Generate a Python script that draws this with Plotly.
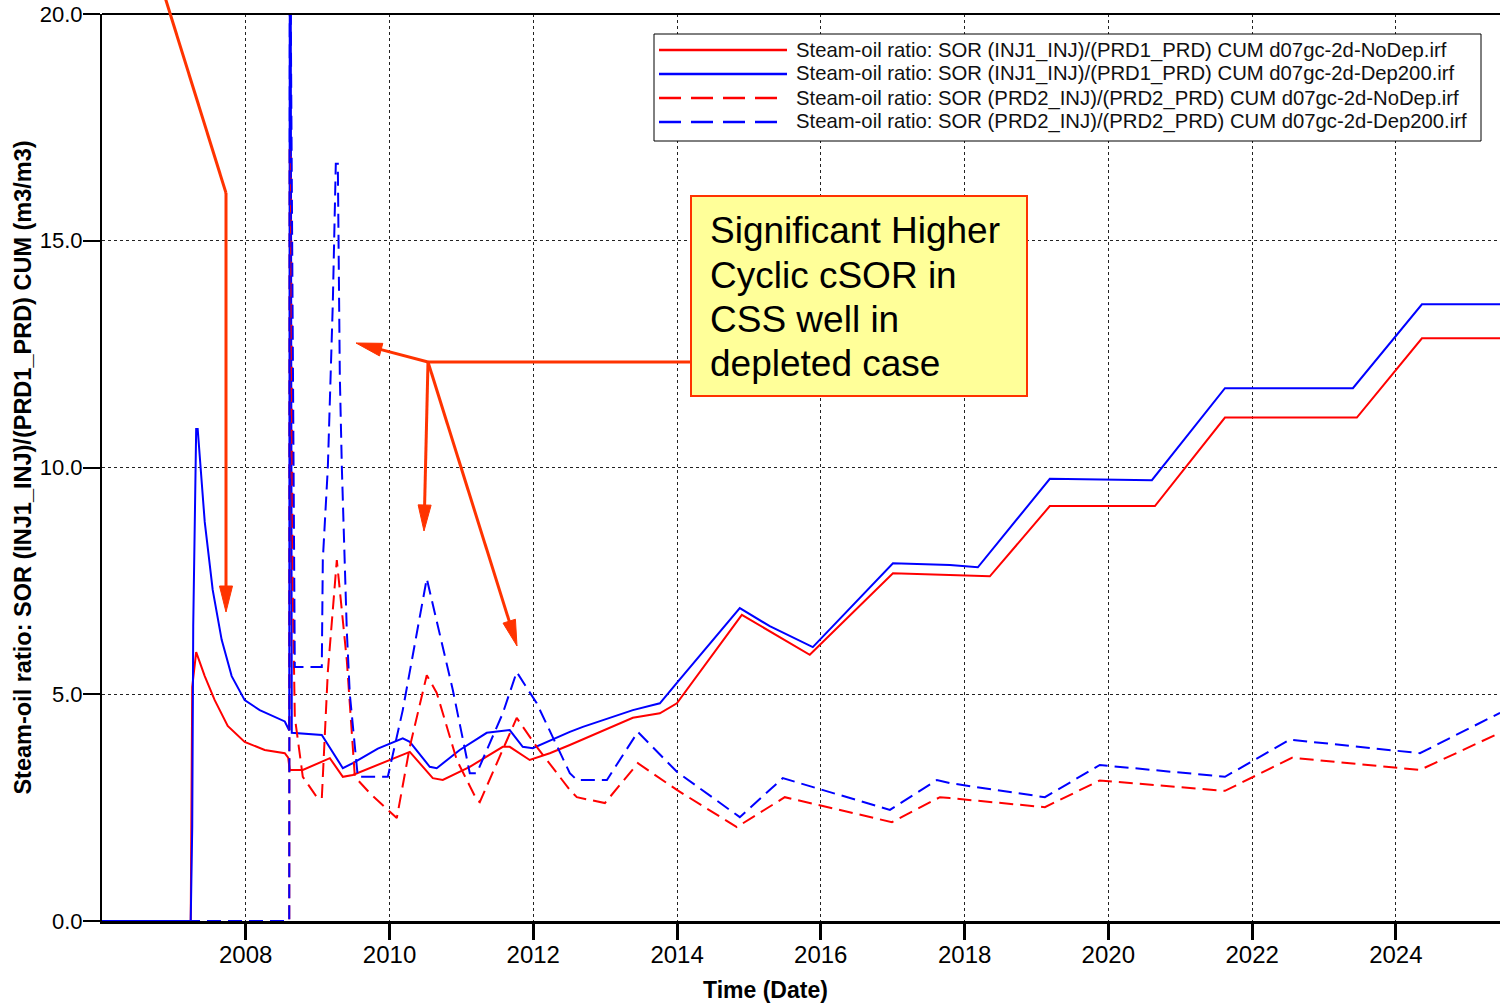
import plotly.graph_objects as go
from datetime import datetime
import math

# ---------------- data (time in decimal years, SOR in m3/m3) ----------------
t_inj1_nodep = [2006.0, 2007.235, 2007.256, 2007.311, 2007.430, 2007.569, 2007.750, 2007.986, 2008.264, 2008.543,
                2008.590, 2008.612, 2008.793, 2009.127, 2009.169, 2009.350, 2009.489, 2010.282, 2010.602, 2010.741,
                2011.117, 2011.576, 2011.673, 2011.951, 2012.230, 2012.508, 2013.384, 2013.760, 2013.997, 2014.901,
                2015.249, 2015.847, 2017.002, 2017.795, 2018.351, 2019.186, 2020.647, 2021.621, 2023.457, 2024.362,
                2025.447]
v_inj1_nodep = [0, 0, 5.16, 5.93, 5.4, 4.87, 4.3, 3.95, 3.77, 3.7,
                3.6, 3.33, 3.33, 3.55, 3.59, 3.18, 3.22, 3.73, 3.15, 3.11,
                3.4, 3.84, 3.84, 3.55, 3.7, 3.88, 4.48, 4.58, 4.8, 6.75,
                6.42, 5.87, 7.67, 7.63, 7.6, 9.15, 9.15, 11.1, 11.1, 12.85,
                12.85]

t_inj1_dep = [2006.0, 2007.235, 2007.256, 2007.270, 2007.311, 2007.332, 2007.430, 2007.541, 2007.666, 2007.805,
              2007.986, 2008.195, 2008.543, 2008.605, 2008.612, 2008.626, 2008.640,
              2009.057, 2009.350, 2009.489, 2009.837, 2010.184, 2010.282, 2010.560, 2010.657, 2010.977, 2011.353,
              2011.673, 2011.854, 2011.993, 2012.508, 2012.689, 2013.384, 2013.760, 2013.997, 2014.873, 2015.290,
              2015.889, 2017.002, 2017.795, 2018.184, 2019.186, 2020.605, 2021.621, 2023.402, 2024.362, 2025.447]
v_inj1_dep = [0, 0, 2.07, 6.5, 10.85, 10.85, 8.8, 7.3, 6.2, 5.4,
              4.87, 4.65, 4.4, 4.2, 20, 20, 4.15,
              4.1, 3.37, 3.48, 3.8, 4.03, 3.95, 3.4, 3.37, 3.77, 4.15,
              4.21, 3.84, 3.81, 4.17, 4.28, 4.65, 4.8, 5.25, 6.9, 6.5,
              6.04, 7.89, 7.85, 7.8, 9.75, 9.72, 11.75, 11.75, 13.6, 13.6]

t_prd2_nodep = [2006.0, 2008.605, 2008.612, 2008.626, 2008.654, 2008.682, 2008.793, 2008.988, 2009.057, 2009.141,
                2009.266, 2009.405, 2009.517, 2009.725, 2010.101, 2010.282, 2010.518, 2010.657, 2010.936, 2011.214,
                2011.256, 2011.770, 2012.049, 2012.508, 2012.605, 2012.995, 2013.454, 2013.997, 2014.831, 2015.499,
                2016.988, 2017.656, 2017.795, 2019.117, 2019.882, 2021.621, 2022.553, 2024.334, 2025.447]
v_prd2_nodep = [0, 0, 17, 17, 7.3, 4.5, 3.18, 2.73, 2.7, 5.5,
                7.96, 5.75, 3.18, 2.82, 2.27, 3.84, 5.42, 5.03, 3.55, 2.67,
                2.62, 4.48, 3.84, 2.89, 2.73, 2.6, 3.48, 2.89, 2.07, 2.73,
                2.18, 2.73, 2.71, 2.51, 3.1, 2.87, 3.6, 3.33, 4.15]

t_prd2_dep = [2006.0, 2008.605, 2008.612, 2008.626, 2008.682, 2009.057, 2009.071, 2009.141, 2009.210, 2009.252,
              2009.280, 2009.308, 2009.336, 2009.377, 2009.405, 2009.447, 2009.558, 2009.976, 2010.184, 2010.518,
              2010.880, 2011.117, 2011.214, 2011.576, 2011.770, 2012.049, 2012.508, 2012.605, 2013.023, 2013.454,
              2013.997, 2014.873, 2015.471, 2016.960, 2017.614, 2017.795, 2019.117, 2019.882, 2021.621, 2022.525,
              2024.334, 2025.447]
v_prd2_dep = [0, 0, 20, 20, 5.6, 5.6, 7.96, 10.0, 13.6, 16.7,
              16.7, 12.0, 10.0, 8.0, 6.4, 5.0, 3.18, 3.18, 4.65, 7.55,
              5.1, 3.26, 3.26, 4.58, 5.49, 4.8, 3.26, 3.11, 3.11, 4.17,
              3.29, 2.29, 3.15, 2.45, 3.11, 3.04, 2.73, 3.44, 3.18, 4.0,
              3.7, 4.59]

series_names = [
    "Steam-oil ratio: SOR (INJ1_INJ)/(PRD1_PRD) CUM d07gc-2d-NoDep.irf",
    "Steam-oil ratio: SOR (INJ1_INJ)/(PRD1_PRD) CUM d07gc-2d-Dep200.irf",
    "Steam-oil ratio: SOR (PRD2_INJ)/(PRD2_PRD) CUM d07gc-2d-NoDep.irf",
    "Steam-oil ratio: SOR (PRD2_INJ)/(PRD2_PRD) CUM d07gc-2d-Dep200.irf",
]
series_colors = ["#FF0000", "#0000FF", "#FF0000", "#0000FF"]
series_dash = ["solid", "solid", "14px,7px", "14px,7px"]

x_tick_years = [2008, 2010, 2012, 2014, 2016, 2018, 2020, 2022, 2024]
y_tick_vals = [0, 5, 10, 15, 20]
y_tick_text = ["0.0", "5.0", "10.0", "15.0", "20.0"]
x_range = [2006.0, 2025.447]

callout_lines = ["Significant Higher", "Cyclic cSOR in", "CSS well in", "depleted case"]


def to_date(d):
    y = int(math.floor(d))
    f = d - y
    s = datetime(y, 1, 1)
    e = datetime(y + 1, 1, 1)
    return s + (e - s) * f


FONT = "Liberation Sans, Arial, sans-serif"
W, H = 1500, 1005
L, R, T, B = 102, 0, 14, 84
PW, PH = W - L - R, H - T - B


def px(x):
    return (x - L) / PW


def py(y):
    return (H - B - y) / PH


fig = go.Figure()
all_t = [t_inj1_nodep, t_inj1_dep, t_prd2_nodep, t_prd2_dep]
all_v = [v_inj1_nodep, v_inj1_dep, v_prd2_nodep, v_prd2_dep]
for i in range(4):
    fig.add_trace(go.Scatter(
        x=[to_date(d) for d in all_t[i]], y=all_v[i], mode="lines",
        name=series_names[i], showlegend=False,
        line=dict(color=series_colors[i], width=2, dash=series_dash[i]),
    ))

shapes = []
annotations = []

# top frame line
shapes.append(dict(type="line", xref="paper", yref="paper", x0=0, x1=1, y0=1, y1=1,
                   line=dict(color="black", width=2), layer="above"))

# ---- manual legend ----
shapes.append(dict(type="rect", xref="paper", yref="paper",
                   x0=px(654), x1=px(1481), y0=py(141), y1=py(34),
                   fillcolor="white", line=dict(color="black", width=1), layer="above"))
leg_dash = ["solid", "solid", "22px,10px", "22px,10px"]
for i in range(4):
    yy = 50 + 24 * i
    shapes.append(dict(type="line", xref="paper", yref="paper",
                       x0=px(659), x1=px(787), y0=py(yy), y1=py(yy),
                       line=dict(color=series_colors[i], width=2.5, dash=leg_dash[i]), layer="above"))
    annotations.append(dict(xref="paper", yref="paper", x=px(794), y=py(yy), xanchor="left", yanchor="middle",
                            text=series_names[i], showarrow=False,
                            font=dict(family=FONT, size=20.3, color="#111111")))

# ---- callout box ----
ARROW = "#FF3300"
shapes.append(dict(type="rect", xref="paper", yref="paper",
                   x0=px(691), x1=px(1027), y0=py(396), y1=py(196),
                   fillcolor="#FFFF99", line=dict(color=ARROW, width=2), layer="above"))
for i, ln in enumerate(callout_lines):
    annotations.append(dict(xref="paper", yref="paper", x=px(708), y=py(231 + 44.3 * i),
                            xanchor="left", yanchor="middle", text=ln, showarrow=False,
                            font=dict(family=FONT, size=37, color="black")))


def seg(a, b, w=3):
    shapes.append(dict(type="line", xref="paper", yref="paper",
                       x0=px(a[0]), y0=py(a[1]), x1=px(b[0]), y1=py(b[1]),
                       line=dict(color=ARROW, width=w), layer="above"))


def arrow(tail, tip, hl=26, hw=6.5):
    dx, dy = tip[0] - tail[0], tip[1] - tail[1]
    n = math.hypot(dx, dy)
    ux, uy = dx / n, dy / n
    bx, by = tip[0] - ux * hl, tip[1] - uy * hl
    seg(tail, (bx + ux * 2, by + uy * 2))
    nx, ny = -uy, ux
    p1 = (bx + nx * hw, by + ny * hw)
    p2 = (bx - nx * hw, by - ny * hw)
    path = "M {} {} L {} {} L {} {} Z".format(px(tip[0]), py(tip[1]), px(p1[0]), py(p1[1]),
                                              px(p2[0]), py(p2[1]))
    shapes.append(dict(type="path", xref="paper", yref="paper", path=path,
                       fillcolor=ARROW, line=dict(color=ARROW, width=1), layer="above"))


seg((164, -6), (226, 193))
arrow((226, 193), (226, 612))
seg((690, 362), (428, 362))
arrow((428, 362), (356, 343))
arrow((428, 362), (424, 531))
arrow((428, 362), (517, 646))

# x-axis title
annotations.append(dict(xref="paper", yref="paper", x=px(765), y=py(990), xanchor="center", yanchor="middle",
                        text="Time (Date)", showarrow=False,
                        font=dict(family=FONT, size=23, color="black", weight="bold")))

fig.update_layout(
    width=W, height=H,
    margin=dict(l=L, r=R, t=T, b=B, autoexpand=False),
    paper_bgcolor="white", plot_bgcolor="white",
    showlegend=False,
    shapes=shapes, annotations=annotations,
    font=dict(family=FONT, color="black"),
)
fig.update_xaxes(
    type="date", range=[to_date(x_range[0]), to_date(x_range[1])],
    tickvals=[datetime(y, 1, 1) for y in x_tick_years], ticktext=[str(y) for y in x_tick_years],
    ticks="outside", ticklen=16, tickwidth=2.5, tickcolor="black",
    showline=True, linecolor="black", linewidth=3,
    showgrid=True, gridcolor="#222222", gridwidth=1, griddash="3px,3px",
    tickfont=dict(family=FONT, size=24, color="black"), ticklabelstandoff=-6,
    zeroline=False, automargin=False,
)
fig.update_yaxes(
    range=[0, 20], tickvals=y_tick_vals, ticktext=y_tick_text,
    ticks="outside", ticklen=17, tickwidth=2, tickcolor="black",
    showline=True, linecolor="black", linewidth=2,
    showgrid=True, gridcolor="#222222", gridwidth=1, griddash="3px,3px",
    tickfont=dict(family=FONT, size=22, color="black"), ticklabelstandoff=-4,
    zeroline=False, automargin=False,
    title=dict(text="Steam-oil ratio: SOR (INJ1_INJ)/(PRD1_PRD) CUM (m3/m3)", standoff=2,
               font=dict(family=FONT, size=23.5, color="black", weight="bold")),
)

fig.write_html("out.html", config={"displayModeBar": False},
               post_script="document.body.style.margin='0px';document.body.style.overflow='hidden';")
